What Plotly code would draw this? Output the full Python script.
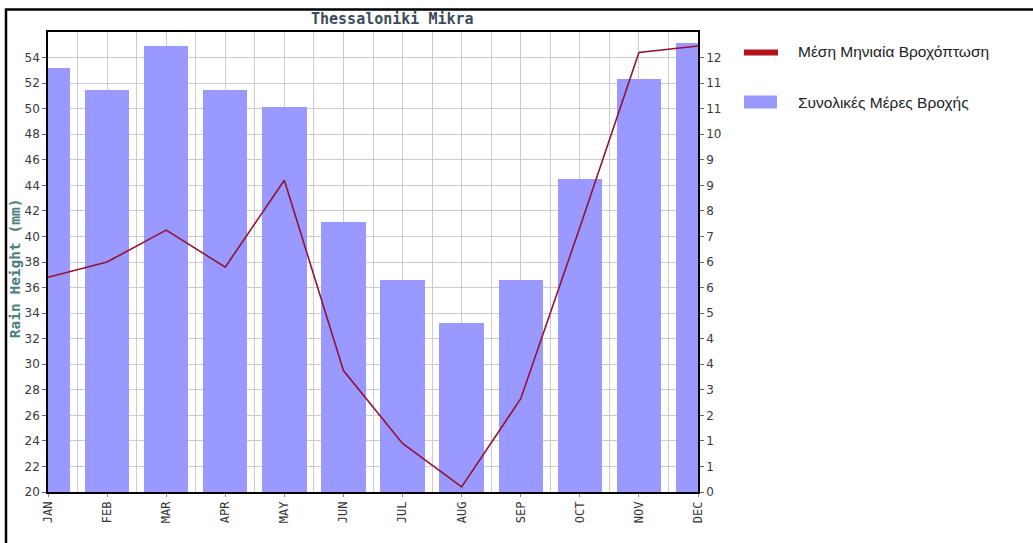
import plotly.graph_objects as go

# ---- data ----
months = ["JAN", "FEB", "MAR", "APR", "MAY", "JUN", "JUL", "AUG", "SEP", "OCT", "NOV", "DEC"]
rain_mm = [36.8, 38.0, 40.5, 37.6, 44.4, 29.5, 23.8, 20.4, 27.3, 40.7, 54.4, 54.9]
rain_days = [11.8, 11.2, 12.4, 11.2, 10.7, 7.5, 5.9, 4.7, 5.9, 8.7, 11.5, 12.5]
left_ticks = [20, 22, 24, 26, 28, 30, 32, 34, 36, 38, 40, 42, 44, 46, 48, 50, 52, 54]
right_ticklabels = ["0", "1", "1", "2", "3", "4", "4", "5", "6", "6", "7", "8", "9", "9", "10", "11", "11", "12"]
line_name = "Μέση Μηνιαία Βροχόπτωση"
bar_name = "Συνολικές Μέρες Βροχής"
title_text = "Thessaloniki Mikra"
ytitle_text = "Rain Height (mm)"

# axis ranges
MM_MIN, MM_MAX = 20, 56
DAYS_MAX = 12.8

x = list(range(len(months)))
day_ticks = [(v - MM_MIN) * DAYS_MAX / (MM_MAX - MM_MIN) for v in left_ticks]

# layout geometry (pixels)
W, H = 1033, 543
L, R, T, B = 48, 698, 31.5, 492
pw, ph = R - L, B - T


def px(xp):
    return (xp - L) / pw


def py(yp):
    return (B - yp) / ph


fig = go.Figure()
fig.add_trace(go.Bar(
    x=x, y=rain_days, yaxis="y", width=0.75,
    marker=dict(color="#9999ff", line=dict(width=0)),
    name=bar_name, showlegend=False,
))
fig.add_trace(go.Scatter(
    x=x, y=rain_mm, yaxis="y2", mode="lines",
    line=dict(color="#931235", width=1.6),
    name=line_name, showlegend=False,
))

grid_c = "#d0cbcb"
tick_font = dict(family="DejaVu Sans", size=12, color="#3a3a3a")

fig.update_layout(
    width=W, height=H,
    margin=dict(l=L, r=W - R, t=T, b=H - B, pad=0),
    paper_bgcolor="white", plot_bgcolor="white",
    showlegend=False,
    xaxis=dict(
        range=[0, len(months) - 1], tickmode="array", tickvals=x, ticktext=months,
        tickangle=-90, tickfont=dict(family="DejaVu Sans Mono", size=12, color="#333333"),
        showgrid=True, gridcolor=grid_c, gridwidth=1,
        minor=dict(tickmode="array", tickvals=[i + 0.5 for i in x[:-1]], showgrid=True,
                   gridcolor=grid_c, gridwidth=1, ticks=""),
        showline=True, linecolor="black", linewidth=1.5, mirror=True,
        ticks="outside", ticklen=3, tickcolor="#888888",
        zeroline=False, fixedrange=True,
    ),
    yaxis=dict(
        side="right", range=[0, DAYS_MAX], tickmode="array",
        tickvals=day_ticks, ticktext=right_ticklabels, tickfont=tick_font,
        showgrid=True, gridcolor=grid_c, gridwidth=1,
        showline=True, linecolor="black", linewidth=1.5,
        ticks="outside", ticklen=4, tickcolor="#666666",
        zeroline=False,
    ),
    yaxis2=dict(
        side="left", overlaying="y", range=[MM_MIN, MM_MAX], tickmode="array",
        tickvals=left_ticks, ticktext=[str(v) for v in left_ticks], tickfont=tick_font,
        showgrid=False, showline=True, linecolor="black", linewidth=1.5,
        ticks="outside", ticklen=4, tickcolor="#666666",
        zeroline=False,
    ),
    bargap=0,
)

# outer frame of the image
fig.add_shape(type="rect", xref="paper", yref="paper",
              x0=px(6), x1=px(W + 20), y0=py(H + 20), y1=py(9),
              line=dict(color="black", width=2.5), fillcolor="rgba(0,0,0,0)", layer="above")

# title and axis title
fig.add_annotation(text="<b>" + title_text + "</b>", xref="paper", yref="paper",
                   x=px(392), y=py(18), showarrow=False, xanchor="center", yanchor="middle",
                   font=dict(family="DejaVu Sans Mono", size=15, color="#3b4d5a"))
fig.add_annotation(text="<b>" + ytitle_text + "</b>", xref="paper", yref="paper",
                   x=px(15), y=py(268), showarrow=False, textangle=-90,
                   xanchor="center", yanchor="middle",
                   font=dict(family="DejaVu Sans Mono", size=14.5, color="#4a7e80"))

# legend (drawn manually)
fig.add_shape(type="line", xref="paper", yref="paper",
              x0=px(744), x1=px(778), y0=py(52), y1=py(52),
              line=dict(color="#b3151b", width=6))
fig.add_shape(type="rect", xref="paper", yref="paper",
              x0=px(744), x1=px(777), y0=py(108), y1=py(95),
              line=dict(width=0), fillcolor="#9999ff")
legend_font = dict(family="Liberation Sans, Arial", size=15.5, color="#222222")
fig.add_annotation(text=line_name, xref="paper", yref="paper", x=px(796), y=py(51),
                   showarrow=False, xanchor="left", yanchor="middle", font=legend_font)
fig.add_annotation(text=bar_name, xref="paper", yref="paper", x=px(796), y=py(102),
                   showarrow=False, xanchor="left", yanchor="middle", font=legend_font)

fig.write_html(
    "out.html",
    config={"displayModeBar": False},
    post_script="document.body.style.margin='0';document.body.style.overflow='hidden';",
)
